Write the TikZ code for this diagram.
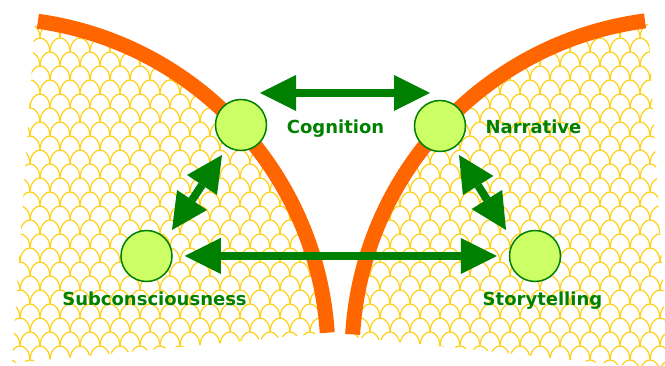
\documentclass[tikz,border=0pt]{standalone}
\usepackage{fontspec}
\usetikzlibrary{arrows.meta}
\newfontfamily\labelfont{DejaVu Sans}
\definecolor{scalegold}{RGB}{255,208,20}
\definecolor{bandorange}{RGB}{255,102,0}
\definecolor{leafgreen}{RGB}{0,128,0}
\definecolor{nodefill}{RGB}{204,255,102}
\tikzset{
  band/.style={draw=bandorange, line width=15pt},
  scaleline/.style={draw=scalegold, line width=1.2pt},
  concept/.style={circle, draw=leafgreen, fill=nodefill, line width=1.5pt,
    minimum size=51pt, inner sep=0pt},
  conceptlabel/.style={text=leafgreen, font=\labelfont\bfseries\fontsize{18}{20}\selectfont,
    anchor=base, inner sep=0pt},
  link/.style={draw=leafgreen, line width=8pt,
    {Triangle[length=36pt,width=36pt,line width=0pt]}-{Triangle[length=36pt,width=36pt,line width=0pt]}},
}
\begin{document}
\begin{tikzpicture}[x=1pt, y=1pt, yscale=-1]
\useasboundingbox (0,0) rectangle (665,366);

% scale-textured fields on both sides of the bands
\begin{scope}
  \clip (-9,355) ++(-3.8:337) arc[start angle=-3.8, end angle=-82, radius=337]
        -- (35,22) -- (12,363) -- (327,333) -- cycle
        (689,355) ++(-176.5:337) arc[start angle=-176.5, end angle=-97.5, radius=337]
        -- (648,22) -- (668,370) -- (352,337) -- cycle;
  \foreach \j in {0,...,27} {
    \pgfmathsetmacro\yy{10+14*\j}
    \pgfmathsetmacro\off{mod(\j,2)*10}
    \foreach \i in {0,...,34} {
      \pgfmathsetmacro\xx{-20+20*\i+\off}
      \draw[scaleline] (\xx,\yy) .. controls (\xx+1,\yy-18.7) and (\xx+19,\yy-18.7) .. (\xx+20,\yy);
    }
  }
\end{scope}

% the two orange bands
\draw[band] (-9,355) ++(-82:337) arc[start angle=-82, end angle=-3.8, radius=337];
\draw[band] (689,355) ++(-97.5:337) arc[start angle=-97.5, end angle=-176.5, radius=337];

% concepts
\node[concept] (cog) at (241,125) {};
\node[concept] (nar) at (440,126) {};
\node[concept] (sub) at (146.5,256) {};
\node[concept] (story) at (535,256) {};

\node[conceptlabel] (cogl) at (335.5,134) {Cognition};
\node[conceptlabel] (narl) at (533.5,134) {Narrative};
\node[conceptlabel] (subl) at (154.5,306) {Subconsciousness};
\node[conceptlabel] (storyl) at (542.5,306) {Storytelling};

% two-way links
\coordinate (cogR) at (260,93);
\coordinate (narL) at (430,93);
\coordinate (subU) at (172,230);
\coordinate (cogD) at (222,155);
\coordinate (narD) at (459,155);
\coordinate (storyU) at (506,230);

\draw[link] (cogR) -- (narL);
\draw[link] (subU) -- (cogD);
\draw[link] (narD) -- (storyU);
\draw[link, shorten <=12pt, shorten >=12pt] (sub) -- (story);
\end{tikzpicture}
\end{document}
